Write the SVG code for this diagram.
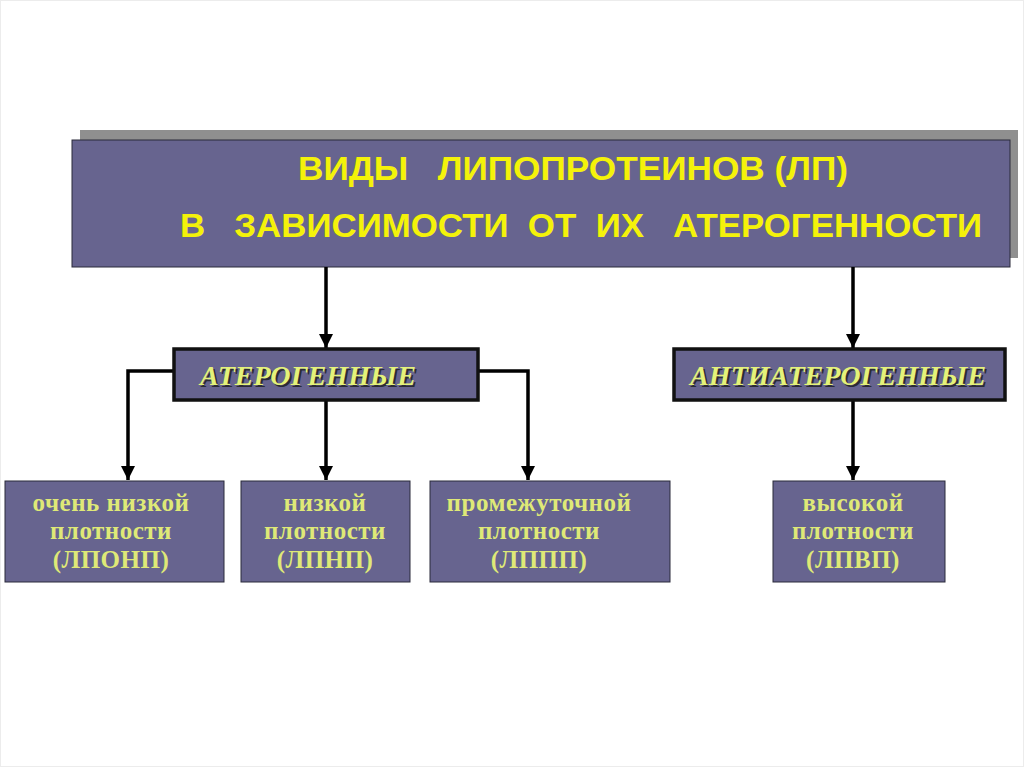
<svg xmlns="http://www.w3.org/2000/svg" width="1024" height="767" viewBox="0 0 1024 767">
<defs>
<style>
.box{fill:#67648f}
.thin{stroke:#2a2a3a;stroke-width:1}
.thick{stroke:#111;stroke-width:3.5}
.title{font-family:"Liberation Sans Narrow","Liberation Sans",Arial,sans-serif;font-weight:bold;font-size:33px;fill:#f4f20a;white-space:pre}
.cat{font-family:"Liberation Serif","Times New Roman",serif;font-weight:bold;font-style:italic;font-size:27px;fill:#e4f27a}
.catsh{font-family:"Liberation Serif","Times New Roman",serif;font-weight:bold;font-style:italic;font-size:27px;fill:#2b2b33}
.leaf{font-family:"Liberation Serif","Times New Roman",serif;font-weight:bold;font-size:25px;letter-spacing:0.5px;fill:#dfe977;text-anchor:middle}
.conn{stroke:#000;stroke-width:3.5;fill:none}
</style>
<marker id="arr" viewBox="0 0 10 10" refX="10" refY="5" markerWidth="4" markerHeight="4" markerUnits="strokeWidth" orient="auto">
<path d="M0,0 L10,5 L0,10 z" fill="#000"/>
</marker>
</defs>
<rect x="0" y="0" width="1024" height="767" fill="#fff"/>
<rect x="0.5" y="0.5" width="1023" height="766" fill="none" stroke="#ececec" stroke-width="1"/>

<g id="title">
<rect x="80" y="130" width="938" height="128" fill="#8f8f8f"/>
<rect class="box thin" x="72" y="140" width="938" height="127"/>
<text class="title" x="298" y="180" textLength="550" lengthAdjust="spacingAndGlyphs" xml:space="preserve">ВИДЫ   ЛИПОПРОТЕИНОВ (ЛП)</text>
<text class="title" x="180" y="237" textLength="802" lengthAdjust="spacingAndGlyphs" xml:space="preserve">В   ЗАВИСИМОСТИ  ОТ  ИХ   АТЕРОГЕННОСТИ</text>
</g>

<g id="connectors">
<line class="conn" x1="326" y1="267" x2="326" y2="348" marker-end="url(#arr)"/>
<line class="conn" x1="853" y1="267" x2="853" y2="348" marker-end="url(#arr)"/>
<polyline class="conn" points="173,371 128,371 128,480" marker-end="url(#arr)"/>
<line class="conn" x1="326" y1="400" x2="326" y2="480" marker-end="url(#arr)"/>
<polyline class="conn" points="479,371 528,371 528,480" marker-end="url(#arr)"/>
<line class="conn" x1="853" y1="400" x2="853" y2="480" marker-end="url(#arr)"/>
</g>

<g id="aterogennye">
<rect class="box thick" x="174" y="349" width="304" height="51"/>
<text class="catsh" x="202" y="387" textLength="216" lengthAdjust="spacingAndGlyphs">АТЕРОГЕННЫЕ</text>
<text class="cat" x="200" y="385" textLength="216" lengthAdjust="spacingAndGlyphs">АТЕРОГЕННЫЕ</text>
</g>

<g id="antiaterogennye">
<rect class="box thick" x="674" y="349" width="331" height="51"/>
<text class="catsh" x="692" y="387" textLength="296" lengthAdjust="spacingAndGlyphs">АНТИАТЕРОГЕННЫЕ</text>
<text class="cat" x="690" y="385" textLength="296" lengthAdjust="spacingAndGlyphs">АНТИАТЕРОГЕННЫЕ</text>
</g>

<g id="lponp">
<rect class="box thin" x="5" y="481" width="219" height="101"/>
<text class="leaf" x="111" y="511">очень низкой</text>
<text class="leaf" x="111" y="539">плотности</text>
<text class="leaf" x="111" y="568">(ЛПОНП)</text>
</g>

<g id="lpnp">
<rect class="box thin" x="241" y="481" width="169" height="101"/>
<text class="leaf" x="325" y="511">низкой</text>
<text class="leaf" x="325" y="539">плотности</text>
<text class="leaf" x="325" y="568">(ЛПНП)</text>
</g>

<g id="lppp">
<rect class="box thin" x="430" y="481" width="240" height="101"/>
<text class="leaf" x="539" y="511">промежуточной</text>
<text class="leaf" x="539" y="539">плотности</text>
<text class="leaf" x="539" y="568">(ЛППП)</text>
</g>

<g id="lpvp">
<rect class="box thin" x="773" y="481" width="172" height="101"/>
<text class="leaf" x="853" y="511">высокой</text>
<text class="leaf" x="853" y="539">плотности</text>
<text class="leaf" x="853" y="568">(ЛПВП)</text>
</g>
</svg>
